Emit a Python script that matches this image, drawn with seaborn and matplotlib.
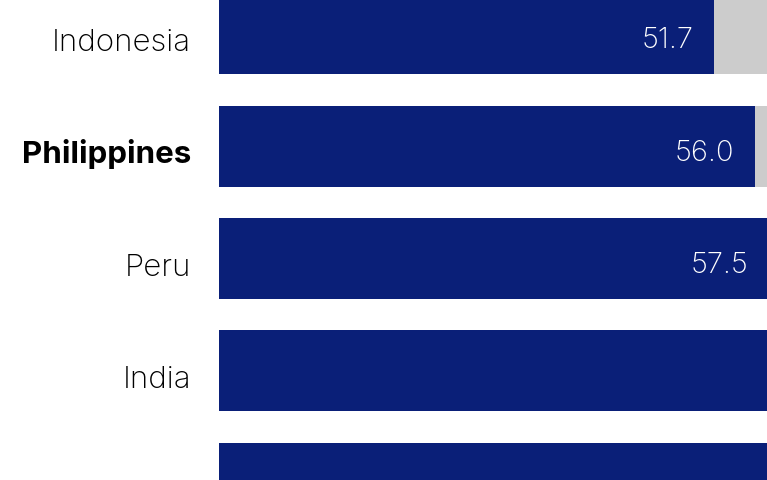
import numpy as np
import pandas as pd
import matplotlib
matplotlib.use('Agg')
import matplotlib.pyplot as plt
import seaborn as sns

# data (last two bars run past the crop, values estimated)
countries = ['Indonesia', 'Philippines', 'Peru', 'India', '']
values = [51.7, 56.0, 57.5, 66.5, 70.0]
track_max = 100  # grey track behind each bar
highlight = 'Philippines'

df = pd.DataFrame({'country': countries, 'value': values, 'track': track_max})

sns.set_style('white')
plt.rcParams['font.family'] = ['Inter', 'DejaVu Sans']

fig = plt.figure(figsize=(7.67, 4.80), dpi=100)
ax = fig.add_axes([219 / 767, 0, 548 / 767, 1])

sns.barplot(data=df, y='country', x='track', color='#cccccc', width=0.72,
            orient='h', ax=ax, saturation=1, linewidth=0)
sns.barplot(data=df, y='country', x='value', color='#0a1f78', width=0.72,
            orient='h', ax=ax, saturation=1, linewidth=0)

xmax = 57.23
ax.set_xlim(0, xmax)
ax.set_ylim(3.969, -0.298)
ax.set_xlabel('')
ax.set_ylabel('')
ax.set_xticks([])
ax.set_yticks([])
sns.despine(ax=ax, left=True, bottom=True)

# country names on the left, value labels inside the bar end
for i, (c, v) in enumerate(zip(countries, values)):
    w = 'bold' if c == highlight else 'light'
    ax.text(-28 / 9.575, i + 17 / 112.5, c, ha='right', va='baseline',
            fontsize=22.5, fontweight=w, color='black', clip_on=False)
    if v < xmax + 1:  # labels of longer bars fall outside the crop
        ax.text(v - 21 / 9.575, i + 14.5 / 112.5, f'{v:.1f}', ha='right',
                va='baseline', fontsize=21, fontweight='light', color='white')

fig.savefig('out.png', dpi=100)
